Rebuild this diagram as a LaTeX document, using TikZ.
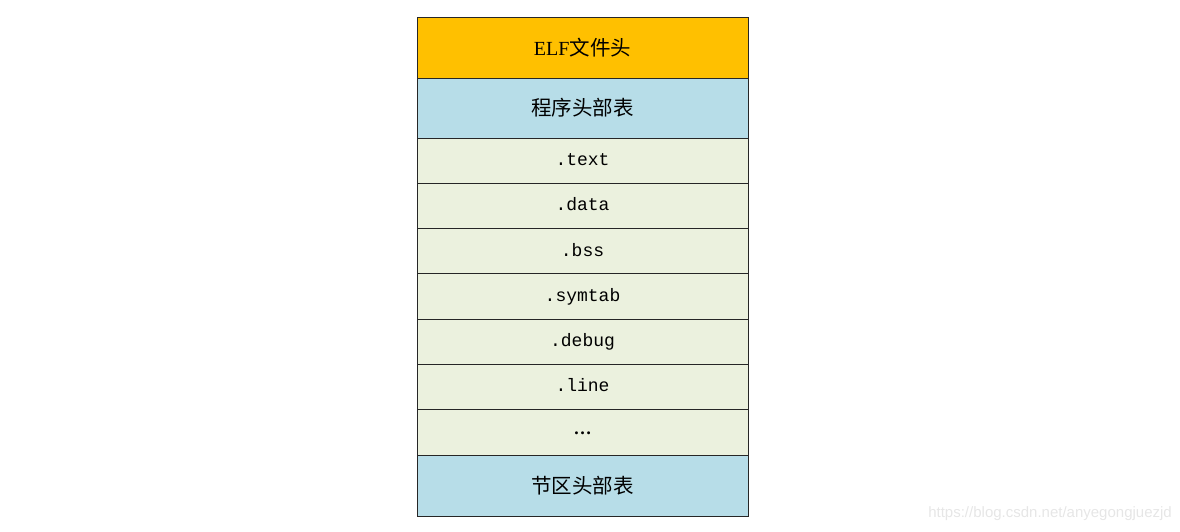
\documentclass[tikz,border=0pt]{standalone}
\usepackage{fontspec}
\setmainfont{Liberation Serif}
\newfontfamily\cjk{Noto Sans CJK SC}
\newfontfamily\mono{Liberation Mono}
\newfontfamily\wmfont{Liberation Sans}
\definecolor{hdrorange}{HTML}{FFC000}
\definecolor{tblblue}{HTML}{B7DDE8}
\definecolor{secgreen}{HTML}{EBF1DE}
\definecolor{wmgray}{HTML}{E6E6E6}
\begin{document}
\begin{tikzpicture}[x=1pt,y=-1pt,
  cell/.style={draw=black!85, line width=0.9pt, minimum width=331pt, inner sep=0pt, outer sep=0pt, anchor=north},
  hdr/.style={cell, fill=hdrorange, minimum height=61pt, font=\fontsize{20}{22}\selectfont},
  tbl/.style={cell, fill=tblblue, minimum height=60pt, font=\cjk\fontsize{20.5}{22}\selectfont},
  sec/.style={cell, fill=secgreen, minimum height=45.3pt, text height=13pt, text depth=3.5pt, font=\mono\fontsize{18}{20}\selectfont}]
\useasboundingbox (0,0) rectangle (1180,532);
\node[hdr] (elf) at (582.5,17) {ELF{\cjk\fontsize{20.5}{22}\selectfont 文件头}};
\node[tbl] (pht) at (elf.south) {程序头部表};
\node[sec] (text) at (pht.south) {.text};
\node[sec] (data) at (text.south) {.data};
\node[sec] (bss) at (data.south) {.bss};
\node[sec] (symtab) at (bss.south) {.symtab};
\node[sec] (debug) at (symtab.south) {.debug};
\node[sec] (line) at (debug.south) {.line};
\node[sec, font=\bfseries\fontsize{18}{20}\selectfont] (dots) at (line.south) {\raisebox{3pt}{…}};
\node[tbl, minimum height=61pt] (sht) at (dots.south) {节区头部表};
\node[anchor=east, text=wmgray, font=\wmfont\fontsize{15}{17}\selectfont, inner sep=0pt] (wm) at (1172,514) {https://blog.csdn.net/anyegongjuezjd};
\end{tikzpicture}
\end{document}
